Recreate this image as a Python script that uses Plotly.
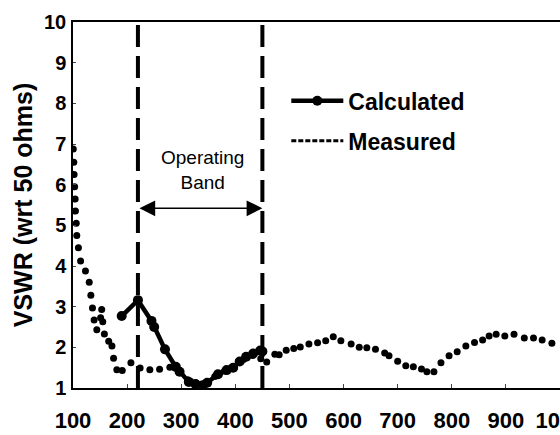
import plotly.graph_objects as go

# ---- data ----
meas_x = [100.5, 101.5, 102, 103, 104, 104.5, 106, 107, 110, 114, 123, 130, 133, 136, 139, 144,
          151, 153, 155, 158, 166, 172, 175, 181, 191, 207, 224, 242, 260, 279,
          297, 312, 328, 345, 362, 380, 398, 415, 432, 447, 458, 473, 481, 494, 508, 520,
          536, 552, 567, 581, 595, 614, 629, 643, 659, 676, 684, 700, 715, 729, 744, 754,
          767, 780, 795, 810, 826, 842, 857, 869, 882, 898, 915, 934, 951, 967, 985]
meas_y = [6.88, 6.55, 6.25, 5.95, 5.65, 5.35, 5.05, 4.75, 4.45, 4.12, 3.88, 3.6, 3.28, 2.97, 2.67, 2.43,
          2.73, 2.93, 2.63, 2.33, 2.15, 2.03, 1.73, 1.45, 1.43, 1.62, 1.49, 1.45, 1.46, 1.51,
          1.42, 1.2, 1.12, 1.12, 1.28, 1.42, 1.5, 1.7, 1.8, 1.72, 1.64, 1.83, 1.82, 1.93, 1.97, 2.01,
          2.08, 2.11, 2.16, 2.26, 2.16, 2.08, 2.0, 1.99, 1.95, 1.86, 1.79, 1.66, 1.55, 1.52, 1.47, 1.4,
          1.4, 1.62, 1.79, 1.89, 2.03, 2.12, 2.18, 2.28, 2.32, 2.28, 2.32, 2.23, 2.23, 2.18, 2.1]

calc_x = [190, 220, 245, 250, 270, 290, 297, 314, 326, 340, 348, 368, 384, 396, 408, 420, 433, 446, 450]
calc_y = [2.77, 3.16, 2.65, 2.5, 1.95, 1.52, 1.40, 1.15, 1.10, 1.07, 1.13, 1.34, 1.44, 1.50, 1.65, 1.77, 1.85, 1.92, 1.9]

band_edges = [220, 450]
band_arrow_y = 5.42
x_ticks = [100, 200, 300, 400, 500, 600, 700, 800, 900, 1000]
y_ticks = [1, 2, 3, 4, 5, 6, 7, 8, 9, 10]

FONT = "Arial, Liberation Sans, sans-serif"

fig = go.Figure()

fig.add_trace(go.Scatter(
    x=meas_x, y=meas_y, mode="markers", name="Measured", showlegend=False,
    marker=dict(color="black", size=7),
))
fig.add_trace(go.Scatter(
    x=calc_x, y=calc_y, mode="lines+markers", name="Calculated",
    legendgroup="a",
    line=dict(color="black", width=4.5),
    marker=dict(color="black", size=10),
))
fig.add_trace(go.Scatter(
    x=[None], y=[None], mode="lines", name="Measured", legendgroup="b",
    line=dict(color="black", width=3, dash="5px,2px"),
))

for xv in band_edges:
    fig.add_shape(type="line", x0=xv, x1=xv, xref="x", y0=0, y1=1, yref="paper",
                  line=dict(color="black", width=4, dash="22px,9px"))

fig.add_annotation(x=band_edges[1], y=band_arrow_y, ax=band_edges[0], ay=band_arrow_y,
                   xref="x", yref="y", axref="x", ayref="y", text="",
                   showarrow=True, arrowhead=2, arrowside="end+start",
                   arrowwidth=1.5, arrowsize=2.1, arrowcolor="black")
fig.add_annotation(x=340, y=6.35, xref="x", yref="y",
                   text="Operating<br>Band", showarrow=False,
                   font=dict(family=FONT, size=19, color="black"))

fig.update_layout(
    width=560, height=435,
    margin=dict(l=73, r=0, t=22, b=47),
    paper_bgcolor="white", plot_bgcolor="white",
    font=dict(family=FONT, color="black"),
    legend=dict(x=0.438, y=0.73, xanchor="left", yanchor="middle",
                bgcolor="rgba(0,0,0,0)", traceorder="grouped", tracegroupgap=7,
                itemwidth=52,
                font=dict(family=FONT, size=23, color="black", weight="bold")),
)
fig.update_xaxes(range=[100, 1000], tickvals=x_ticks, ticks="inside", ticklen=4,
                 showgrid=False, zeroline=False, showline=True, linecolor="black",
                 linewidth=1.5, mirror=True, ticklabelstandoff=12,
                 ticklabeloverflow="allow", automargin=False,
                 tickfont=dict(family=FONT, size=22, color="black", weight="bold"))
fig.update_yaxes(range=[1, 10], tickvals=y_ticks, ticks="inside", ticklen=3,
                 showgrid=False, zeroline=False, showline=True, linecolor="black",
                 linewidth=1.5, mirror=True, ticklabelstandoff=1, automargin=False,
                 title=dict(text="VSWR (wrt 50 ohms)", standoff=4,
                            font=dict(family=FONT, size=25, color="black", weight="bold")),
                 tickfont=dict(family=FONT, size=20, color="black", weight="bold"))

fig.write_html("out.html", config={"displayModeBar": False},
               post_script="document.body.style.margin='0px';")
